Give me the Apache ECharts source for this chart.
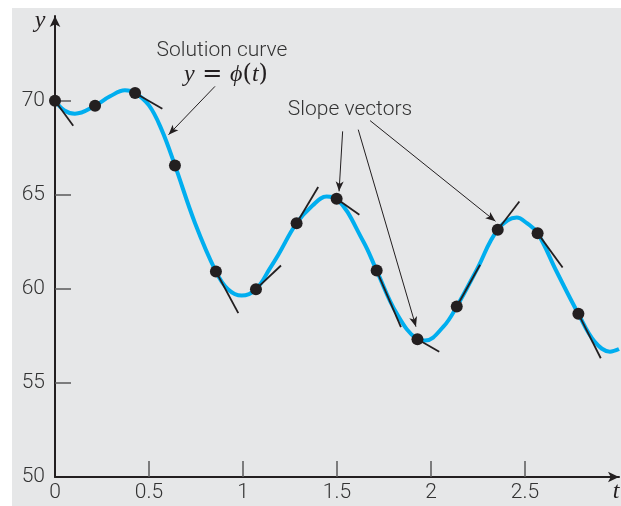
<!DOCTYPE html>
<html>
<head>
<meta charset="utf-8">
<script src="https://cdn.jsdelivr.net/npm/echarts@6/dist/echarts.min.js"></script>
<style>
  html, body { margin: 0; padding: 0; background: #fff; }
  #chart { width: 621px; height: 506px; }
</style>
</head>
<body>
<div id="chart"></div>
<script>
// Solution curve y = phi(t), sampled along t
const curveT = [0, 0.05, 0.106, 0.213, 0.293, 0.372, 0.426, 0.5, 0.567, 0.638, 0.745, 0.856, 0.92, 0.993,
  1.069, 1.144, 1.188, 1.285, 1.37, 1.445, 1.498, 1.64, 1.711, 1.817, 1.928, 1.968, 2.066, 2.137,
  2.243, 2.355, 2.456, 2.51, 2.567, 2.668, 2.784, 2.87, 2.952, 3.0];
const curveY = [70.0, 69.48, 69.31, 69.73, 70.23, 70.55, 70.41, 69.75, 68.46, 66.56, 63.49, 60.92, 59.98, 59.64,
  59.98, 61.1, 61.81, 63.49, 64.43, 64.91, 64.79, 62.52, 60.97, 58.7, 57.32, 57.25, 57.99, 59.06,
  61.01, 63.14, 63.79, 63.49, 62.96, 60.92, 58.67, 57.2, 56.66, 56.8];

// Points on the curve where slope vectors are drawn
const dotT = [0, 0.213, 0.426, 0.638, 0.856, 1.069, 1.285, 1.498, 1.711, 1.928, 2.137, 2.355, 2.567, 2.784];
const dotY = [70.0, 69.73, 70.41, 66.56, 60.92, 59.98, 63.49, 64.79, 60.97, 57.32, 59.06, 63.14, 62.96, 58.67];

// Tip of the slope vector starting at each point (null: vector hidden under the curve)
const vecT = [0.097, null, 0.571, null, 0.975, 1.202, 1.400, 1.619, 1.840, 2.044, 2.261, 2.470, 2.700, 2.903];
const vecY = [68.67, null, 69.57, null, 58.71, 61.24, 65.41, 63.94, 57.96, 56.66, 61.28, 64.64, 61.13, 56.31];

// Tick labels
const xTicks = [0, 0.5, 1, 1.5, 2, 2.5];
const yTicks = [50, 55, 60, 65, 70];

// Callout arrows: [fromT, fromY, toT, toY]
const solutionArrow = [0.851, 70.76, 0.604, 68.19];
const slopeArrows = [
  [1.530, 68.37, 1.511, 65.18],
  [1.613, 68.46, 1.920, 57.99],
  [1.676, 68.94, 2.343, 63.59]
];

const INK = '#231f20';
const TEXT = '#333333';
const BLUE = '#00aeef';
const SANS = 'Roboto';

const curveData = curveT.map((t, i) => [t, curveY[i]]);
const dotData = dotT.map((t, i) => [t, dotY[i]]);
const vectorData = [];
dotT.forEach((t, i) => {
  if (vecT[i] !== null) vectorData.push({ coords: [[t, dotY[i]], [vecT[i], vecY[i]]] });
});

const arrowLine = a => [
  { coord: [a[0], a[1]], symbol: 'none' },
  { coord: [a[2], a[3]], symbol: 'arrow', symbolSize: [6, 10] }
];

const chart = echarts.init(document.getElementById('chart'), null, { renderer: 'canvas' });

chart.setOption({
  animation: false,
  backgroundColor: '#e6e7e8',
  grid: { left: 55, right: 2, top: 16, bottom: 29, containLabel: false, outerBoundsMode: 'none' },
  xAxis: {
    type: 'value', min: 0, max: 3.0,
    axisLine: { show: true, onZero: false, symbol: ['none', 'arrow'], symbolSize: [8, 11],
      lineStyle: { color: INK, width: 2 } },
    axisTick: { show: true, inside: true, length: 16, customValues: xTicks.slice(1),
      lineStyle: { color: '#5a5a5a', width: 1.5 } },
    axisLabel: { customValues: xTicks, margin: 5, fontFamily: SANS, fontWeight: 300,
      fontSize: 21, color: TEXT },
    splitLine: { show: false }
  },
  yAxis: {
    type: 'value', min: 50, max: 74.5,
    axisLine: { show: true, onZero: false, symbol: ['none', 'arrow'], symbolSize: [8, 11],
      lineStyle: { color: INK, width: 2 } },
    axisTick: { show: true, inside: true, length: 16, customValues: yTicks.slice(1),
      lineStyle: { color: '#5a5a5a', width: 1.5 } },
    axisLabel: { customValues: yTicks, margin: 10, fontFamily: SANS, fontWeight: 300,
      fontSize: 21, color: TEXT },
    splitLine: { show: false }
  },
  series: [
    {
      name: 'solution',
      type: 'line',
      data: curveData,
      smooth: 0.4,
      showSymbol: false,
      silent: true,
      z: 2,
      lineStyle: { color: BLUE, width: 4 }
    },
    {
      name: 'slope vectors',
      type: 'lines',
      coordinateSystem: 'cartesian2d',
      data: vectorData,
      silent: true,
      z: 3,
      lineStyle: { color: INK, width: 1.8, opacity: 1 }
    },
    {
      name: 'points',
      type: 'scatter',
      data: dotData,
      symbol: 'circle',
      symbolSize: 12,
      silent: true,
      z: 4,
      itemStyle: { color: INK, opacity: 1 },
      markLine: {
        silent: true,
        animation: false,
        label: { show: false },
        emphasis: { disabled: true },
        lineStyle: { color: INK, width: 1, type: 'solid', opacity: 1 },
        data: [arrowLine(solutionArrow)].concat(slopeArrows.map(arrowLine))
      }
    }
  ],
  graphic: [
    { type: 'rect', shape: { x: 0, y: 0, width: 621, height: 8 }, style: { fill: '#ffffff' }, silent: true },
    { type: 'rect', shape: { x: 0, y: 0, width: 12, height: 506 }, style: { fill: '#ffffff' }, silent: true },
    { type: 'text', x: 40, y: 21, silent: true,
      style: { text: 'y', font: 'italic 24px "Liberation Serif"', fill: INK, align: 'center', verticalAlign: 'middle' } },
    { type: 'text', x: 616, y: 492, silent: true,
      style: { text: 't', font: 'italic 24px "Liberation Serif"', fill: INK, align: 'center', verticalAlign: 'middle' } },
    { type: 'text', x: 222, y: 51, silent: true,
      style: { text: 'Solution curve', font: '300 21px Roboto', fill: TEXT, align: 'center', verticalAlign: 'middle' } },
    { type: 'text', x: 226, y: 75, silent: true,
      style: {
        text: '{i|y} = {i|\u03d5}({i|t})',
        font: '24px "DejaVu Serif"', fill: INK, align: 'center', verticalAlign: 'middle',
        rich: {
          i: { font: 'italic 24px "Liberation Serif"', fill: INK },
        }
      } },
    { type: 'text', x: 350, y: 110, silent: true,
      style: { text: 'Slope vectors', font: '300 21px Roboto', fill: TEXT, align: 'center', verticalAlign: 'middle' } }
  ]
});
</script>
</body>
</html>
